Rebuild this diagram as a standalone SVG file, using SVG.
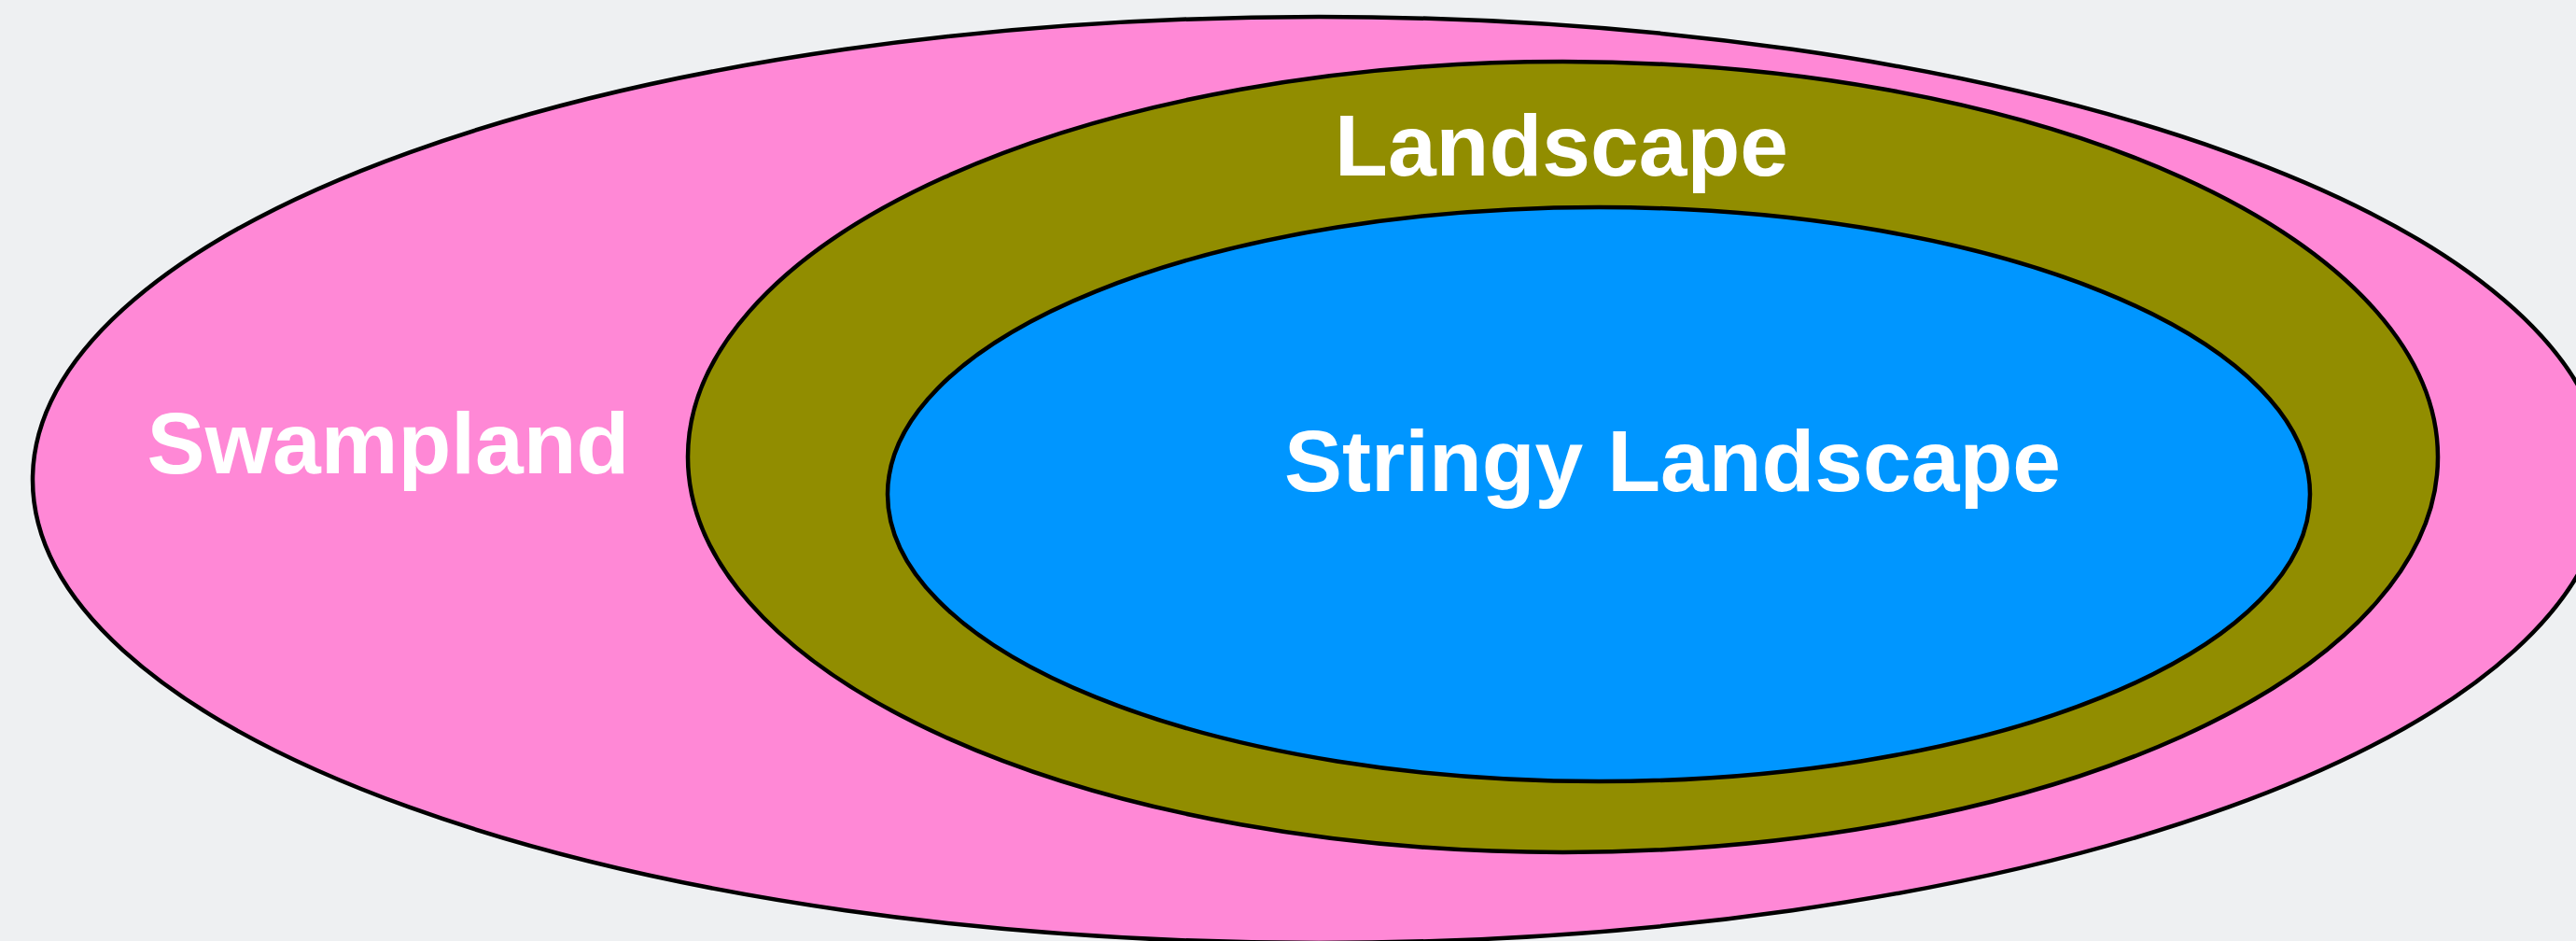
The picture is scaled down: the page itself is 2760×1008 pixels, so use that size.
<svg xmlns="http://www.w3.org/2000/svg" width="2760" height="1008" viewBox="0 0 2760 1008">
<style>
.set{stroke:#000;stroke-width:4.5}
.lbl{font-family:"Liberation Sans",Arial,Helvetica,sans-serif;font-weight:bold;font-size:93px;fill:#fff;text-anchor:middle}
</style>
<rect x="0" y="0" width="2760" height="1008" fill="#eef0f2"/>
<g id="swampland">
<ellipse class="set" cx="1413" cy="514" rx="1378" ry="496" fill="#ff88d6"/>
<text class="lbl" x="416" y="507">Swampland</text>
</g>
<g id="landscape">
<ellipse class="set" cx="1674.5" cy="489.5" rx="937.5" ry="423.5" fill="#918d00"/>
<text class="lbl" x="1673" y="188">Landscape</text>
</g>
<g id="stringy-landscape">
<ellipse class="set" cx="1713" cy="529.5" rx="762" ry="307.5" fill="#0096ff"/>
<text class="lbl" x="1792" y="526">Stringy Landscape</text>
</g>
<g id="connectors"/>
</svg>
